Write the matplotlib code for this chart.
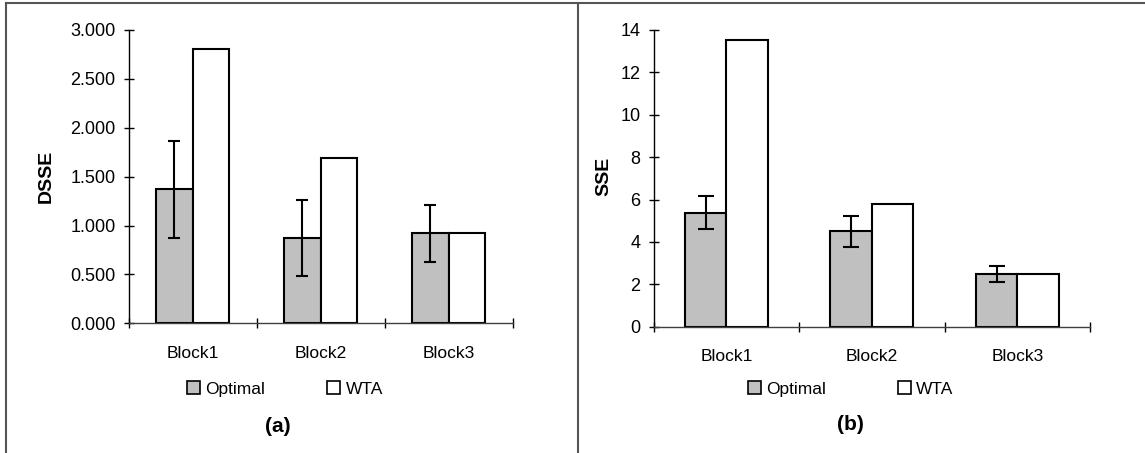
import matplotlib.pyplot as plt
from matplotlib.lines import Line2D
from matplotlib.patches import Patch
import numpy as np

plt.rcParams['font.family'] = ['Liberation Sans', 'DejaVu Sans']

blocks = ["Block1", "Block2", "Block3"]
series = ["Optimal", "WTA"]

dsse_optimal = [1.37, 0.87, 0.92]
dsse_optimal_err = [0.495, 0.39, 0.29]
dsse_wta = [2.805, 1.69, 0.92]

sse_optimal = [5.38, 4.50, 2.48]
sse_optimal_err = [0.78, 0.73, 0.39]
sse_wta = [13.52, 5.80, 2.48]

grey = "#c0c0c0"
fig = plt.figure(figsize=(11.45, 4.53), dpi=100)

def draw_panel(rect, opt, err, wta, ylim, yticks, yfmt, ylabel, ylab_x, leg_x, colsp, cap):
  ax = fig.add_axes(rect)
  x = np.arange(len(blocks))
  w = 0.286
  ax.bar(x - w/2, opt, w, color=grey, edgecolor="black", linewidth=1.5, zorder=2)
  ax.bar(x + w/2, wta, w, color="white", edgecolor="black", linewidth=1.5, zorder=2)
  ax.errorbar(x - w/2, opt, yerr=err, fmt="none", ecolor="black", elinewidth=1.5,
              capsize=cap, capthick=1.5, zorder=3)
  ax.set_xlim(-0.5, len(blocks) - 0.5)
  ax.set_ylim(*ylim)
  ax.set_yticks(yticks)
  ax.set_yticklabels([yfmt.format(v) for v in yticks], fontsize=13)
  ax.set_xticks(x)
  ax.set_xticklabels(blocks, fontsize=12.5)
  ax.set_xticks(np.arange(len(blocks) + 1) - 0.5, minor=True)
  ax.tick_params(axis="x", which="major", length=0, pad=16)
  ax.tick_params(axis="x", which="minor", direction="inout", length=7, width=1)
  ax.tick_params(axis="y", direction="inout", length=7, width=1, pad=6)
  for s in ["top", "right"]:
    ax.spines[s].set_visible(False)
  for s in ["left", "bottom"]:
    ax.spines[s].set_linewidth(1.0)
  ax.spines["bottom"].set_color("#404040")
  fig.text(ylab_x, 0.61, ylabel, rotation=90, fontsize=14, fontweight="bold",
           ha="center", va="center")
  handles = [Patch(facecolor=grey, edgecolor="black", linewidth=1.2),
             Patch(facecolor="white", edgecolor="black", linewidth=1.2)]
  fig.legend(handles, series, loc="center left", bbox_to_anchor=(leg_x, 0.141),
             ncol=2, frameon=False, fontsize=12.5, handlelength=0.75, handleheight=0.75,
             handletextpad=0.3, columnspacing=colsp, borderaxespad=0, borderpad=0)
  return ax

draw_panel([0.1124, 0.2863, 0.3354, 0.6476], dsse_optimal, dsse_optimal_err, dsse_wta,
           (0, 3.0), np.arange(0, 3.01, 0.5), "{:.3f}", "DSSE", 0.0408, 0.163, 3.6, 4)
draw_panel([0.5709, 0.2788, 0.3811, 0.6550], sse_optimal, sse_optimal_err, sse_wta,
           (0, 14), np.arange(0, 15, 2), "{:.0f}", "SSE", 0.527, 0.6535, 4.1, 6)

fig.text(278/1145, 1 - 426/453, "(a)", fontsize=15, fontweight="bold", ha="center", va="center")
fig.text(850/1145, 1 - 425/453, "(b)", fontsize=15, fontweight="bold", ha="center", va="center")

# outer frame and divider
fc = "#555555"
fig.add_artist(Line2D([6/1145, 1], [1 - 3/453, 1 - 3/453], color=fc, linewidth=1.5))
fig.add_artist(Line2D([6/1145, 6/1145], [0, 1 - 3/453], color=fc, linewidth=1.5))
fig.add_artist(Line2D([578/1145, 578/1145], [0, 1 - 3/453], color=fc, linewidth=1.5))

fig.savefig("out.png", dpi=100)
